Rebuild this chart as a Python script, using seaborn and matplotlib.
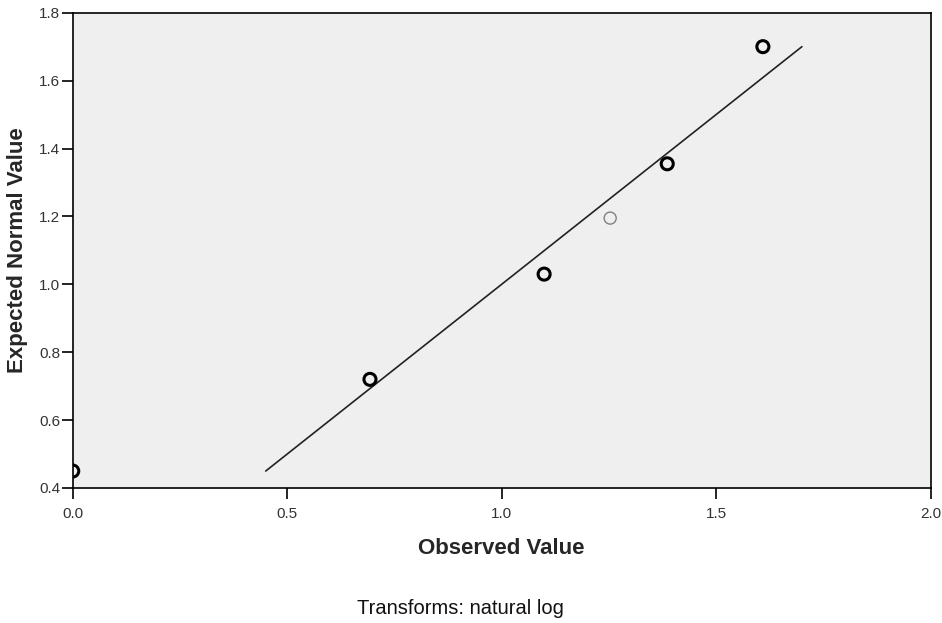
import matplotlib
matplotlib.use("Agg")
import matplotlib.pyplot as plt
import numpy as np
import pandas as pd
import seaborn as sb

# Q-Q plot values
observed = [0.0, 0.693, 1.099, 1.253, 1.386, 1.609]
expected = [0.45, 0.72, 1.03, 1.195, 1.355, 1.70]
edge_cols = ["black", "black", "black", "#808080", "black", "black"]
edge_widths = [2.2, 2.2, 2.2, 1.0, 2.2, 2.2]
line_pts = [0.45, 1.70]

df = pd.DataFrame({"Observed": observed, "Expected": expected})
linedf = pd.DataFrame({"x": line_pts, "y": line_pts})

sb.set_style("ticks")
plt.rcParams["font.family"] = ["Liberation Sans", "DejaVu Sans"]

fig = plt.figure(figsize=(9.42, 6.23), dpi=100)
ax = fig.add_axes([0.0772, 0.2167, 0.9107, 0.7629])
ax.set_facecolor("#efefef")

sb.lineplot(data=linedf, x="x", y="y", color="#222222", linewidth=1.2, ax=ax)
sb.scatterplot(data=df, x="Observed", y="Expected", s=75, facecolor="none",
               edgecolor=edge_cols, linewidth=edge_widths, ax=ax, zorder=3)

ax.set_xlim(0, 2.0)
ax.set_ylim(0.4, 1.8)
ax.set_xticks([0.0, 0.5, 1.0, 1.5, 2.0])
ax.set_yticks([0.4, 0.6, 0.8, 1.0, 1.2, 1.4, 1.6, 1.8])
ax.set_xticklabels(["0.0", "0.5", "1.0", "1.5", "2.0"])
ax.set_yticklabels(["0.4", "0.6", "0.8", "1.0", "1.2", "1.4", "1.6", "1.8"])
ax.tick_params(axis="both", direction="out", length=8, width=1.2,
               labelsize=11, colors="black", labelcolor="#333333")
ax.tick_params(axis="x", pad=6)
ax.tick_params(axis="y", pad=1)

for sp in ax.spines.values():
    sp.set_linewidth(1.2)
    sp.set_color("black")

ax.set_xlabel("Observed Value", fontsize=16, fontweight="bold", labelpad=12)
ax.set_ylabel("Expected Normal Value", fontsize=16, fontweight="bold", labelpad=8)

fig.text(0.489, 0.024, "Transforms: natural log", fontsize=14.5, ha="center",
         va="center", color="#111111")

fig.savefig("out.png", dpi=100)
